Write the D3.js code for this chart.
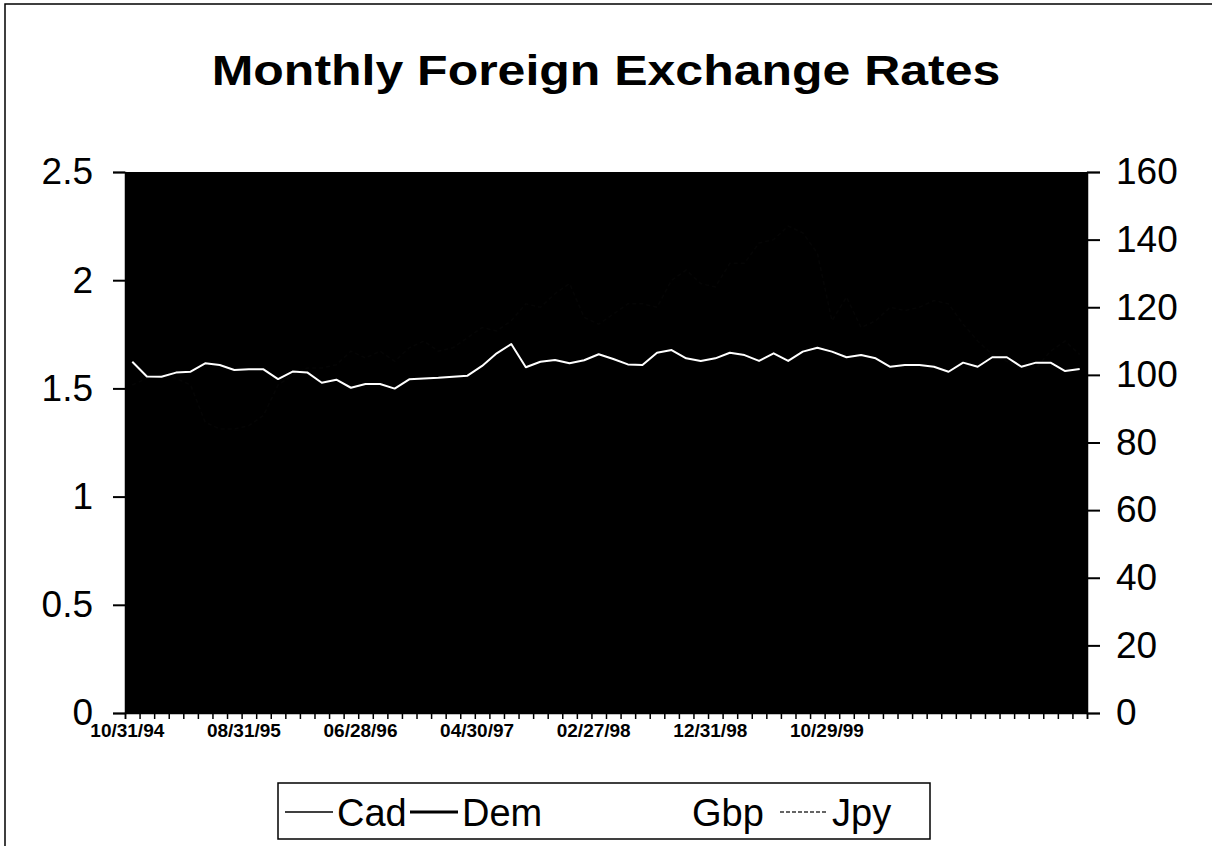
<!DOCTYPE html>
<html>
<head>
<meta charset="utf-8">
<title>Monthly Foreign Exchange Rates</title>
<script src="https://d3js.org/d3.v7.min.js"></script>
<style>
    html, body { margin: 0; background: #fff; overflow: hidden; }
    svg { display: block; }
    text { font-family: "Liberation Sans", Arial, Helvetica, sans-serif; }
</style>
</head>
<body>
<div id="chart"></div>

<script type="text/javascript">

// month-end rates, 10/94 .. 03/00
let gbp = [1.623, 1.555, 1.554, 1.573, 1.577, 1.616, 1.608, 1.585, 1.588, 1.588,
           1.543, 1.578, 1.574, 1.526, 1.540, 1.503, 1.520, 1.520, 1.499, 1.542,
           1.546, 1.549, 1.554, 1.559, 1.604, 1.662, 1.705, 1.598, 1.623, 1.631,
           1.616, 1.630, 1.658, 1.636, 1.611, 1.608, 1.665, 1.677, 1.639, 1.627,
           1.639, 1.665, 1.654, 1.627, 1.662, 1.627, 1.670, 1.688, 1.670, 1.644,
           1.654, 1.639, 1.600, 1.608, 1.608, 1.600, 1.577, 1.619, 1.600, 1.644,
           1.644, 1.600, 1.619, 1.619, 1.580, 1.590];

// these three hardly show against the black plot area
let cad = [1.35, 1.37, 1.40, 1.41, 1.40, 1.40, 1.36, 1.37, 1.37, 1.36, 1.35, 1.34,
           1.35, 1.36, 1.37, 1.37, 1.37, 1.36, 1.36, 1.37, 1.37, 1.37, 1.37, 1.36,
           1.34, 1.35, 1.37, 1.35, 1.37, 1.38, 1.39, 1.38, 1.38, 1.38, 1.39, 1.38,
           1.41, 1.42, 1.43, 1.46, 1.42, 1.41, 1.43, 1.46, 1.47, 1.51, 1.58, 1.52,
           1.54, 1.54, 1.53, 1.51, 1.50, 1.51, 1.45, 1.47, 1.47, 1.50, 1.49, 1.47,
           1.47, 1.47, 1.44, 1.45, 1.45, 1.45];
let dem = [1.51, 1.57, 1.55, 1.51, 1.45, 1.38, 1.38, 1.41, 1.38, 1.39, 1.48, 1.43,
           1.40, 1.43, 1.44, 1.48, 1.47, 1.48, 1.53, 1.53, 1.52, 1.47, 1.48, 1.53,
           1.52, 1.52, 1.54, 1.62, 1.69, 1.69, 1.73, 1.71, 1.74, 1.84, 1.81, 1.76,
           1.73, 1.76, 1.80, 1.83, 1.83, 1.85, 1.80, 1.77, 1.80, 1.79, 1.76, 1.67,
           1.64, 1.72, 1.67, 1.69, 1.77, 1.81, 1.84, 1.87, 1.89, 1.83, 1.86, 1.83,
           1.85, 1.92, 1.95, 2.01, 2.04, 2.05];
let jpy = [97, 99, 100, 99, 97, 86, 84, 84, 85, 88, 97, 100,
           102, 102, 103, 107, 105, 107, 104, 108, 110, 107, 108, 111,
           114, 113, 116, 121, 120, 124, 127, 117, 115, 118, 121, 121,
           120, 128, 131, 127, 126, 133, 133, 139, 140, 144, 142, 136,
           116, 123, 114, 116, 120, 119, 120, 122, 121, 115, 110, 106,
           104, 102, 102, 107, 110, 106];

let dateLabels = ["10/31/94", "08/31/95", "06/28/96", "04/30/97", "02/27/98", "12/31/98", "10/29/99"];
let labelIndex = [0, 8, 16, 24, 32, 40, 48];
let leftTicks = [0, 0.5, 1, 1.5, 2, 2.5];
let rightTicks = [0, 20, 40, 60, 80, 100, 120, 140, 160];

function render() {
    let W = 1212, H = 846;
    let margin = {top: 172, right: 125, bottom: 133, left: 125};
    let w = W - margin.left - margin.right;
    let h = H - margin.top - margin.bottom;
    let n = gbp.length;

    let svg = d3.select("#chart")
            .append("svg")
                .attr("width", W)
                .attr("height", H);

    // outer frame of the chart (right and bottom edges fall outside the page)
    svg.append("rect")
        .attr("x", 5).attr("y", 4)
        .attr("width", W + 20).attr("height", H + 20)
        .attr("fill", "#fff")
        .attr("stroke", "#000")
        .attr("stroke-width", 1.5);

    svg.append("text")
        .attr("transform", "translate(" + (W / 2) + ",85) scale(1.19,1)")
        .attr("text-anchor", "middle")
        .attr("font-size", "42px")
        .attr("font-weight", "bold")
        .text("Monthly Foreign Exchange Rates");

    let g = svg.append("g")
        .attr("transform", "translate(" + margin.left + "," + margin.top + ")");

    let xScale = d3.scaleLinear()
                .domain([-0.5, n - 0.5])
                .range([0, w]);

    let yLeft = d3.scaleLinear()
                .domain([0, 2.5])
                .range([h, 0]);

    let yRight = d3.scaleLinear()
                .domain([0, 160])
                .range([h, 0]);

    g.append("rect")
        .attr("width", w)
        .attr("height", h)
        .attr("fill", "#000");

    let lineL = d3.line()
        .x(function(d, i) { return xScale(i); })
        .y(function(d) { return yLeft(d); });

    let lineR = d3.line()
        .x(function(d, i) { return xScale(i); })
        .y(function(d) { return yRight(d); });

    g.append("path").datum(cad)
        .attr("d", lineL).attr("fill", "none")
        .attr("stroke", "#000").attr("stroke-width", 2);

    g.append("path").datum(dem)
        .attr("d", lineL).attr("fill", "none")
        .attr("stroke", "#000").attr("stroke-width", 3);

    g.append("path").datum(jpy)
        .attr("d", lineR).attr("fill", "none")
        .attr("stroke", "#050505").attr("stroke-width", 1.5)
        .attr("stroke-dasharray", "4,3");

    g.append("path").datum(gbp)
        .attr("d", lineL).attr("fill", "none")
        .attr("stroke", "#fff").attr("stroke-width", 2)
        .attr("stroke-linejoin", "round");

    // axes
    let leftAxis = d3.axisLeft(yLeft)
        .tickValues(leftTicks)
        .tickFormat(d3.format("~g"))
        .tickSize(12)
        .tickPadding(20);

    let rightAxis = d3.axisRight(yRight)
        .tickValues(rightTicks)
        .tickFormat(d3.format("~g"))
        .tickSize(13)
        .tickPadding(16);

    let gl = g.append("g").call(leftAxis);
    let gr = g.append("g").attr("transform", "translate(" + w + ",0)").call(rightAxis);
    [gl, gr].forEach(function(ax) {
        ax.select(".domain").attr("stroke", "#000").attr("stroke-width", 1.5);
        ax.selectAll(".tick line").attr("stroke", "#000").attr("stroke-width", 2);
        ax.selectAll("text")
            .attr("font-family", "Liberation Sans, Arial, sans-serif")
            .attr("font-size", "37px")
            .attr("fill", "#000");
    });

    // monthly ticks along the bottom
    let bounds = d3.range(n + 1).map(function(i) { return i - 0.5; });
    let bottomAxis = d3.axisBottom(xScale)
        .tickValues(bounds)
        .tickFormat("")
        .tickSize(6);
    let gb = g.append("g").attr("transform", "translate(0," + h + ")").call(bottomAxis);
    gb.select(".domain").attr("stroke", "#000").attr("stroke-width", 1.5);
    gb.selectAll(".tick line").attr("stroke", "#000").attr("stroke-width", 1.5);

    g.selectAll(".xlab")
        .data(dateLabels)
        .enter()
        .append("text")
        .attr("class", "xlab")
        .attr("x", function(d, i) { return xScale(labelIndex[i]); })
        .attr("y", h + 24)
        .attr("dx", -5)
        .attr("text-anchor", "middle")
        .attr("font-size", "19px")
        .attr("font-weight", "bold")
        .text(function(d) { return d; });

    // legend
    let lg = svg.append("g");
    lg.append("rect")
        .attr("x", 278).attr("y", 783)
        .attr("width", 652).attr("height", 56)
        .attr("fill", "#fff")
        .attr("stroke", "#000")
        .attr("stroke-width", 1.5);

    let legendItems = [
        {name: "Cad", x: 285, color: "#000", width: 1.5, dash: null},
        {name: "Dem", x: 410, color: "#000", width: 3, dash: null},
        {name: "Gbp", x: 640, color: "#fff", width: 2, dash: null},
        {name: "Jpy", x: 780, color: "#333", width: 1.5, dash: "4,2"}
    ];
    legendItems.forEach(function(d) {
        lg.append("line")
            .attr("x1", d.x).attr("x2", d.x + 48)
            .attr("y1", 812).attr("y2", 812)
            .attr("stroke", d.color)
            .attr("stroke-width", d.width)
            .attr("stroke-dasharray", d.dash);
        lg.append("text")
            .attr("x", d.x + 52)
            .attr("y", 826)
            .attr("font-size", "38px")
            .text(d.name);
    });
}

render();

</script>
</body>
</html>
